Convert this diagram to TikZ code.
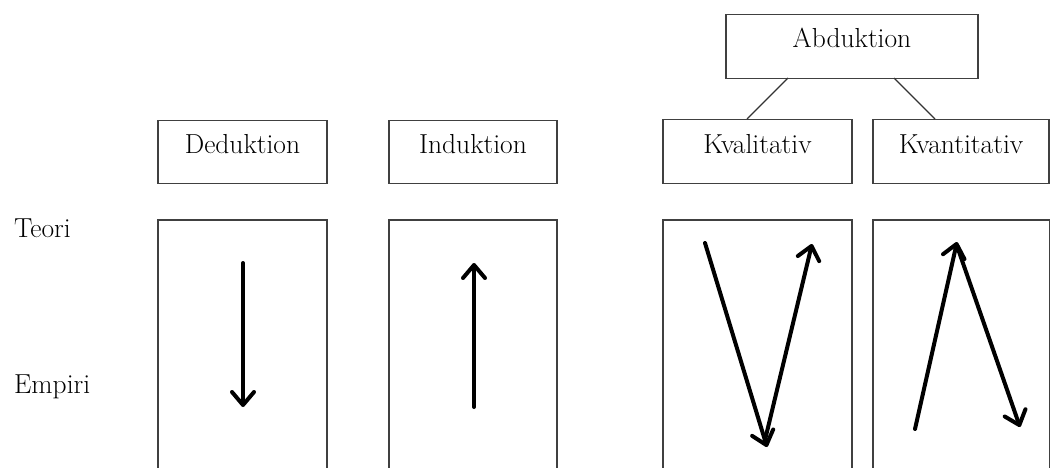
\documentclass[tikz,border=0pt]{standalone}
\usetikzlibrary{arrows.meta}
\begin{document}
\begin{tikzpicture}[x=1pt,y=-1pt,
  lbl/.style={font=\fontsize{27.5}{32}\selectfont, inner sep=0pt},
  hbox/.style={draw=black!75, line width=1.2pt, rectangle, anchor=north, inner xsep=0pt, inner ysep=0pt,
     text height=33pt, text depth=30pt, font=\fontsize{27.5}{32}\selectfont},
  frame/.style={draw=black!75, line width=1.2pt},
  thick arrow/.style={line width=4pt, line cap=round, -{Straight Barb[length=13pt,width=22pt,line width=4pt,round]}},
  conn/.style={draw=black!80, line width=1.2pt}
]
\useasboundingbox (0,0) rectangle (1051,468);
% header boxes
\node[hbox, minimum width=169pt] (ded) at (242.5,120) {Deduktion};
\node[hbox, minimum width=168pt] (ind) at (473,120) {Induktion};
\node[hbox, minimum width=252pt, text height=33pt, text depth=31pt] (abd) at (852,14) {Abduktion};
\node[hbox, minimum width=189pt, text height=34pt] (kval) at (757.5,119) {Kvalitativ};
\node[hbox, minimum width=176pt, text height=34pt] (kvan) at (961,119) {Kvantitativ};
% connectors from Abduktion
\coordinate (a1) at (788,78);
\coordinate (a2) at (894,78);
\coordinate (k1) at (747,119);
\coordinate (k2) at (935,119);
\draw[conn] (a1) -- (k1);
\draw[conn] (a2) -- (k2);
% side labels
\node[lbl, anchor=base west] (teori) at (14,237) {Teori};
\node[lbl, anchor=base west] (empiri) at (14,393) {Empiri};
% lower frames (open at bottom)
\draw[frame] (158,470) -- (158,220) -- (327,220) -- (327,470);
\draw[frame] (389,470) -- (389,220) -- (557,220) -- (557,470);
\draw[frame] (663,470) -- (663,220) -- (852,220) -- (852,470);
\draw[frame] (873,470) -- (873,220) -- (1049.5,220) -- (1049.5,470);
% arrows
\coordinate (d1) at (243,263);
\coordinate (d2) at (243,407);
\draw[thick arrow] (d1) -- (d2);
\coordinate (i1) at (474,407);
\coordinate (i2) at (474,263);
\draw[thick arrow] (i1) -- (i2);
\coordinate (q1) at (705,243);
\coordinate (q2) at (767,447);
\coordinate (q3) at (765,440);
\coordinate (q4) at (812,244);
\draw[thick arrow] (q1) -- (q2);
\draw[thick arrow] (q3) -- (q4);
\coordinate (n1) at (915,429);
\coordinate (n2) at (957,242);
\coordinate (n3) at (957,246);
\coordinate (n4) at (1020,427);
\draw[thick arrow] (n1) -- (n2);
\draw[thick arrow] (n3) -- (n4);
\end{tikzpicture}
\end{document}
